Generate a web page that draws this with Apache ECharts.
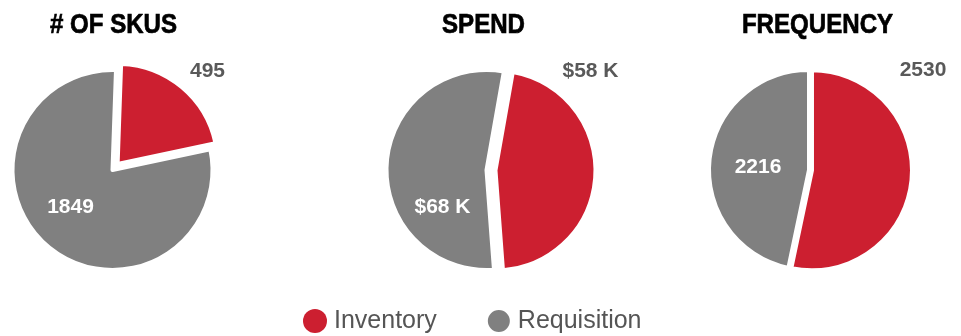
<!DOCTYPE html>
<html>
<head>
<meta charset="utf-8">
<script src="https://cdn.jsdelivr.net/npm/echarts@6/dist/echarts.min.js"></script>
<style>
  html, body { margin: 0; padding: 0; background: #fff; }
  #chart { width: 961px; height: 336px; }
</style>
</head>
<body>
<div id="chart"></div>
<script>
// Category names shared by the three pies and the legend
const categories = ['Inventory', 'Requisition'];
const panelTitles = ['# OF SKUS', 'SPEND', 'FREQUENCY'];

// Values per pie, ordered as categories
const skuCounts = [495, 1849];
const spendThousands = [58, 68];
const frequencyCounts = [2530, 2216];

const RED = '#CC1F30';
const GRAY = '#808080';
const LABEL_FONT = "'Liberation Sans', Arial, Helvetica, sans-serif";

// Layout / formatting for each pie panel
const panels = [
  { title: panelTitles[0], values: skuCounts, fmt: v => String(v),
    center: [112.5, 170], titleX: 113.5, startAngle: 88, pullOut: 8,
    outerLabel: [95, -99], innerLabel: [-42, 37] },
  { title: panelTitles[1], values: spendThousands, fmt: v => '$' + v + ' K',
    center: [486.5, 170], titleX: 483.5, startAngle: 80, pullOut: 9,
    outerLabel: [104, -99], innerLabel: [-44, 37] },
  { title: panelTitles[2], values: frequencyCounts, fmt: v => String(v),
    center: [809, 170], titleX: 817.5, startAngle: 90, pullOut: 3,
    outerLabel: [114, -100], innerLabel: [-51, -3] }
];

const RADIUS = 100;
const HIDDEN = { color: 'rgba(0,0,0,0)', borderWidth: 0 };

// Builds one layer of a pie: only the slice at `shownIndex` is painted,
// the other keeps its angle but stays invisible.
function pieLayer(p, shownIndex, center) {
  const off = shownIndex === 0 ? p.outerLabel : p.innerLabel;
  return {
    type: 'pie',
    center: center,
    radius: RADIUS,
    startAngle: p.startAngle,
    clockwise: true,
    silent: true,
    avoidLabelOverlap: false,
    itemStyle: { borderColor: '#fff', borderWidth: 4 },
    label: {
      show: true,
      position: 'inside',
      fontFamily: LABEL_FONT,
      fontWeight: 'bold',
      fontSize: 21,
      formatter: params => p.fmt(params.value)
    },
    labelLine: { show: false },
    labelLayout: () => ({
      x: p.center[0] + off[0],
      y: p.center[1] + off[1],
      align: 'center',
      verticalAlign: 'middle'
    }),
    data: categories.map((name, i) => ({
      name: name,
      value: p.values[i],
      itemStyle: i === shownIndex
        ? { color: i === 0 ? RED : GRAY }
        : HIDDEN,
      label: i === shownIndex
        ? { show: true, color: i === 0 ? '#595959' : '#fff' }
        : { show: false }
    }))
  };
}

const series = [];
panels.forEach(p => {
  // Requisition slice at the pie centre
  series.push(pieLayer(p, 1, p.center));
  // Inventory slice pulled out along its bisector
  const total = p.values.reduce((a, b) => a + b, 0);
  const mid = (p.startAngle - 180 * p.values[0] / total) * Math.PI / 180;
  const c = [p.center[0] + p.pullOut * Math.cos(mid), p.center[1] - p.pullOut * Math.sin(mid)];
  series.push(pieLayer(p, 0, c));
});

const chart = echarts.init(document.getElementById('chart'), null, { renderer: 'canvas' });

chart.setOption({
  animation: false,
  backgroundColor: '#fff',
  graphic: panels.map(p => ({
    type: 'text',
    x: p.titleX,
    y: 25,
    scaleX: 0.86,
    style: {
      text: p.title,
      font: "bold 28px 'Liberation Sans', Arial, sans-serif",
      fill: '#000',
      stroke: '#000',
      lineWidth: 0.7,
      align: 'center',
      verticalAlign: 'middle'
    }
  })),
  legend: {
    data: categories.map((name, i) => ({ name: name, itemStyle: { color: i === 0 ? RED : GRAY } })),
    left: 298,
    top: 303,
    icon: 'circle',
    itemWidth: 24,
    itemHeight: 24,
    itemGap: 49,
    selectedMode: false,
    textStyle: { fontFamily: LABEL_FONT, fontSize: 25, color: '#555', padding: [0, 0, 0, 2] }
  },
  series: series
});
</script>
</body>
</html>
